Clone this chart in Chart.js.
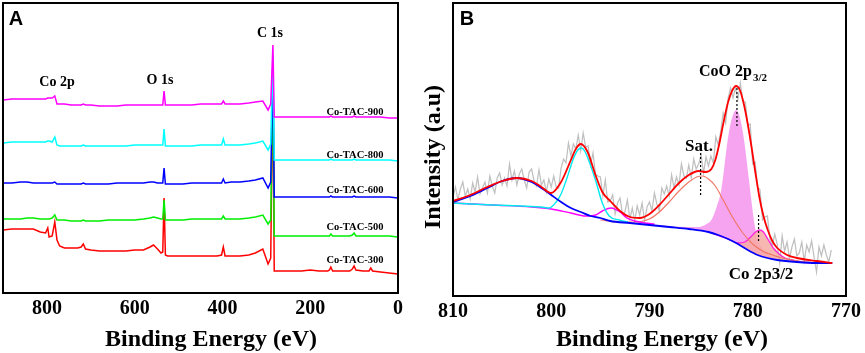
<!DOCTYPE html>
<html>
<head>
<meta charset="utf-8">
<script src="https://cdn.jsdelivr.net/npm/chart.js@4.4.1/dist/chart.umd.min.js"></script>
<style>
  html, body { margin: 0; padding: 0; background: #fff; }
  #wrap { position: relative; width: 865px; height: 353px; overflow: hidden; }
  canvas { position: absolute; top: 0; }
  #survey { left: 0; }
  #co2p { left: 420px; }
</style>
</head>
<body>
<div id="wrap">
  <canvas id="survey" width="430" height="353"></canvas>
  <canvas id="co2p" width="445" height="353"></canvas>
</div>
<script>
// ---- panel A: survey spectra, binding energy (eV) vs stacked intensity (a.u.)
const surveyEnergy = [900, 880, 860, 845, 831, 815, 803, 798, 795, 788, 782, 777, 771, 760, 745, 730, 722, 717, 712, 700,
  680, 660, 640, 620, 600, 580, 565, 557, 548, 540, 536, 533, 530, 525, 510, 490, 470, 450, 430, 412,
  402, 398, 394, 380, 360, 340, 325, 308, 296, 290, 285, 282, 275, 260, 240, 220, 200, 180, 160, 156,
  153, 149, 130, 110, 104, 100, 96, 80, 66, 62, 58, 40, 20, 0];

const tac900 = [193, 194, 194, 194, 194, 194, 194, 195, 195, 195, 197, 189, 189, 189, 188, 188, 188, 189, 188, 188,
  187, 187, 187, 188, 188, 188, 188, 188, 188, 188, 188, 202, 188, 188, 188, 188, 188, 189, 189, 189,
  189, 192, 189, 189, 189, 190, 191, 192, 183, 189, 248, 176, 176, 176, 176, 176, 176, 176, 176, 176,
  177, 176, 176, 176, 176, 177, 176, 176, 176, 176, 176, 176, 175, 175];
const tac800 = [150, 151, 151, 151, 151, 151, 151, 152, 152, 151, 156, 148, 147, 147, 147, 147, 147, 148, 147, 147,
  147, 147, 147, 147, 148, 148, 148, 148, 148, 148, 148, 164, 147, 147, 147, 147, 147, 148, 148, 148,
  148, 154, 148, 148, 148, 149, 150, 152, 143, 149, 238, 133, 133, 133, 133, 133, 133, 133, 133, 133,
  134, 133, 133, 133, 133, 134, 133, 133, 133, 133, 133, 133, 133, 132];
const tac600 = [110, 110, 111, 111, 110, 110, 110, 110, 110, 110, 111, 109, 109, 109, 109, 109, 109, 110, 109, 109,
  109, 109, 110, 110, 110, 110, 111, 111, 110, 110, 110, 125, 109, 109, 109, 109, 110, 110, 110, 110,
  110, 114, 110, 111, 111, 112, 113, 115, 105, 111, 233, 96, 96, 96, 96, 96, 96, 96, 96, 96,
  97, 96, 96, 96, 96, 97, 96, 96, 96, 96, 96, 96, 96, 95];
const tac500 = [74, 74, 74, 75, 75, 74, 74, 74, 74, 75, 78, 73, 73, 73, 72, 72, 72, 73, 72, 72,
  72, 73, 73, 73, 73, 74, 75, 76, 75, 74, 74, 93, 73, 73, 73, 73, 74, 74, 74, 74,
  74, 77, 74, 74, 74, 75, 76, 78, 69, 73, 223, 57, 57, 57, 57, 57, 57, 57, 57, 57,
  59, 57, 57, 57, 58, 60, 57, 57, 57, 57, 57, 57, 57, 56];
const tac300 = [63, 64, 64, 64, 64, 61, 60, 65, 56, 57, 71, 53, 47, 45, 45, 45, 46, 49, 44, 43,
  42, 42, 42, 42, 43, 43, 46, 48, 44, 40, 41, 95, 38, 37, 37, 37, 37, 37, 37, 37,
  38, 46, 37, 37, 37, 38, 40, 44, 29, 35, 218, 22, 22, 22, 22, 22, 23, 22, 22, 23,
  26, 22, 22, 22, 24, 27, 23, 22, 22, 25, 22, 21, 20, 19];

const surveyNames = ["Co-TAC-900", "Co-TAC-800", "Co-TAC-600", "Co-TAC-500", "Co-TAC-300"];
const surveyColors = ["#ff00ff", "#00ffff", "#0000ff", "#00ee00", "#ff0000"];
const surveyTicks = [800, 600, 400, 200, 0];

// ---- panel B: Co 2p region, [binding energy, intensity]
const rawCo2p = [[810, 99], [809.75, 109], [809.5, 96], [809.25, 107], [809, 114], [808.75, 100], [808.5, 107], [808.25, 97],
  [808, 113], [807.75, 104], [807.5, 119], [807.25, 102], [807, 108], [806.75, 114], [806.5, 103], [806.25, 120],
  [806, 110], [805.75, 103], [805.5, 118], [805.25, 123], [805, 111], [804.75, 118], [804.5, 110], [804.25, 132],
  [804, 116], [803.75, 125], [803.5, 111], [803.25, 122], [803, 127], [802.75, 116], [802.5, 108], [802.25, 124],
  [802, 127], [801.75, 115], [801.5, 110], [801.25, 126], [801, 111], [800.75, 116], [800.5, 104], [800.25, 117],
  [800, 109], [799.75, 120], [799.5, 109], [799.25, 108], [799, 128], [798.75, 137], [798.5, 133], [798.25, 153],
  [798, 140], [797.75, 152], [797.5, 147], [797.25, 161], [797, 145], [796.75, 163], [796.5, 149], [796.25, 150],
  [796, 131], [795.75, 143], [795.5, 122], [795.25, 120], [795, 119], [794.75, 100], [794.5, 116], [794.25, 94],
  [794, 95], [793.75, 101], [793.5, 82], [793.25, 93], [793, 98], [792.75, 82], [792.5, 84], [792.25, 96],
  [792, 77], [791.75, 88], [791.5, 75], [791.25, 90], [791, 81], [790.75, 93], [790.5, 75], [790.25, 89],
  [790, 94], [789.75, 85], [789.5, 103], [789.25, 92], [789, 85], [788.75, 108], [788.5, 102], [788.25, 110],
  [788, 100], [787.75, 121], [787.5, 108], [787.25, 119], [787, 111], [786.75, 132], [786.5, 120], [786.25, 118],
  [786, 131], [785.75, 118], [785.5, 137], [785.25, 127], [785, 132], [784.75, 141], [784.5, 123], [784.25, 139],
  [784, 130], [783.75, 140], [783.5, 133], [783.25, 159], [783, 151], [782.75, 165], [782.5, 183], [782.25, 173],
  [782, 198], [781.75, 208], [781.5, 198], [781.25, 208], [781, 197], [780.75, 213], [780.5, 195], [780.25, 194],
  [780, 171], [779.75, 172], [779.5, 132], [779.25, 134], [779, 109], [778.75, 106], [778.5, 76], [778.25, 79],
  [778, 80], [777.75, 57], [777.5, 50], [777.25, 62], [777, 52], [776.75, 33], [776.5, 60], [776.25, 45],
  [776, 54], [775.75, 38], [775.5, 49], [775.25, 57], [775, 40], [774.75, 43], [774.5, 54], [774.25, 35],
  [774, 51], [773.75, 44], [773.5, 55], [773.25, 39], [773, 24], [772.75, 49], [772.5, 40], [772.25, 51],
  [772, 41], [771.75, 34], [771.5, 46]];

const envelopeFit = [[810, 95], [808.5, 100], [806.5, 109], [805, 115], [803.5, 118], [802, 115], [801, 109], [800, 103],
  [799, 114], [798, 136], [797.5, 147], [797, 152], [796.3, 144], [795.5, 121], [794.8, 104], [794, 95], [793, 85],
  [792, 79], [791, 78], [790, 82], [789, 91], [788, 102], [787, 113], [786, 121], [785, 125], [784.3, 124],
  [783.7, 127], [783.3, 136], [782.9, 152], [782.5, 172], [782, 194], [781.6, 205], [781.2, 210], [780.8, 206],
  [780.4, 192], [780, 172], [779.6, 148], [779.2, 122], [778.8, 98], [778.4, 80], [778, 67], [777.5, 55], [777, 48],
  [776, 41], [775, 38], [773, 35], [771.4, 33]];
const peak803Fit = [[810, 94], [808.5, 99], [806.5, 108], [805, 115], [803.5, 118], [802, 114], [801, 108], [800, 101],
  [799, 94], [798, 88], [797, 84], [796, 80], [795, 78], [794, 75], [792, 73], [790, 71], [788, 69], [786, 67],
  [784, 64], [783, 61], [782, 57], [781, 52], [780, 46], [779, 41], [778, 38], [777, 36], [775, 34], [773, 33], [771.4, 33]];
const peak797Fit = [[810, 93], [806, 91], [803, 90], [801, 89], [800.2, 88], [799.5, 94], [799, 102], [798.4, 118],
  [797.8, 136], [797.3, 146], [796.9, 148], [796.6, 145], [796.2, 136], [795.5, 116], [794.8, 93], [794.1, 80],
  [793.1, 76], [792.2, 74]];
const peak794Fit = [[810, 93], [806, 91], [802, 89], [800, 87], [798, 83], [796.5, 80], [795.5, 81], [794.8, 85],
  [793.9, 88], [793, 84], [792.3, 78], [791.5, 75], [790.5, 73], [789.5, 72]];
const satFit = [[795, 76], [793, 74], [791.5, 74], [790, 77], [789, 84], [788, 94], [787, 105], [786, 114], [785.2, 119],
  [784.6, 120], [784, 117], [783.3, 110], [782.5, 96], [781.5, 78], [780.5, 63], [779.5, 52], [778.5, 45], [777.5, 41],
  [776.5, 38], [775.5, 36], [774, 34], [772, 33], [771.4, 33]];
const co2p32Fit = [[784, 64], [782, 57], [781, 53], [780.3, 54], [779.7, 59], [779.2, 64], [778.8, 66], [778.4, 64],
  [777.9, 56], [777.4, 48], [776.8, 42], [776.2, 38], [775.5, 36], [774.5, 34], [773, 33]];
const cooFit = [[790, 72], [788, 70], [786, 69], [785, 69], [784.2, 72], [783.7, 76], [783.2, 88], [782.7, 106],
  [782.4, 128], [782.1, 152], [781.8, 170], [781.5, 181], [781.2, 186], [780.9, 182], [780.5, 164], [780.2, 143],
  [779.9, 118], [779.6, 93], [779.3, 71], [779, 58], [778.6, 49], [778, 42], [777, 37], [776, 35], [775, 34]];
const co2pTicks = [810, 800, 790, 780, 770];

const SERIF = '"Liberation Serif", "Times New Roman", serif';
const SANS = '"Liberation Sans", Arial, sans-serif';

const pts = arr => arr.map(([x, y]) => ({ x, y }));

// frame around plot area + free text and dotted marker lines
const decor = {
  id: "decor",
  afterDraw(chart, args, opts) {
    const { ctx, chartArea: a, scales } = chart;
    ctx.save();
    ctx.strokeStyle = "#000";
    ctx.lineWidth = 2;
    ctx.strokeRect(a.left, a.top, a.right - a.left, a.bottom - a.top);

    ctx.lineWidth = 1.2;
    ctx.setLineDash([2, 2]);
    (opts.marks || []).forEach(([e, v0, v1]) => {
      const x = scales.x.getPixelForValue(e);
      ctx.beginPath();
      ctx.moveTo(x, scales.y.getPixelForValue(v0));
      ctx.lineTo(x, scales.y.getPixelForValue(v1));
      ctx.stroke();
    });
    ctx.setLineDash([]);

    ctx.fillStyle = "#000";
    ctx.textBaseline = "middle";
    (opts.notes || []).forEach(n => {
      ctx.save();
      ctx.font = n.font;
      ctx.translate(n.x, n.y);
      if (n.rot) ctx.rotate(n.rot);
      ctx.textAlign = n.align || "center";
      ctx.fillText(n.text, 0, 0);
      if (n.sub) {
        const w = ctx.measureText(n.text).width;
        ctx.font = n.subFont;
        ctx.textAlign = "left";
        ctx.fillText(n.sub, w + 1, 6);
      }
      ctx.restore();
    });
    ctx.restore();
  }
};

const tickFont = { family: SERIF, size: 20, weight: "bold" };

function xScale(min, max, ticks, height) {
  return {
    type: "linear", min, max, reverse: true,
    grid: { display: false, drawTicks: false },
    border: { display: false },
    afterBuildTicks: s => { s.ticks = ticks.map(v => ({ value: v })); },
    afterFit: s => { s.height = height; },
    ticks: { font: tickFont, color: "#000", padding: 4, maxRotation: 0, autoSkip: false, callback: v => String(v) }
  };
}

// panel A
const surveySeries = [tac900, tac800, tac600, tac500, tac300];
new Chart(document.getElementById("survey"), {
  type: "line",
  data: {
    datasets: surveySeries.map((vals, i) => ({
      label: surveyNames[i],
      data: surveyEnergy.map((e, j) => ({ x: e, y: vals[j] })),
      borderColor: surveyColors[i],
      borderWidth: 1.5,
      pointRadius: 0,
      tension: 0
    }))
  },
  options: {
    responsive: false, animation: false, devicePixelRatio: 1,
    layout: { padding: { left: 3, right: 32, top: 3, bottom: 0 } },
    scales: {
      x: xScale(0, 900, surveyTicks, 60),
      y: { display: false, min: 0, max: 290 }
    },
    plugins: {
      legend: { display: false }, tooltip: { enabled: false },
      decor: {
        notes: [
          { text: "A", x: 16, y: 19, font: `bold 20px ${SANS}` },
          { text: "C 1s", x: 270, y: 33, font: `bold 14px ${SERIF}` },
          { text: "Co 2p", x: 57, y: 82, font: `bold 14px ${SERIF}` },
          { text: "O 1s", x: 160, y: 80, font: `bold 14px ${SERIF}` },
          { text: surveyNames[0], x: 355, y: 112, font: `bold 10.5px ${SERIF}` },
          { text: surveyNames[1], x: 355, y: 155, font: `bold 10.5px ${SERIF}` },
          { text: surveyNames[2], x: 355, y: 190, font: `bold 10.5px ${SERIF}` },
          { text: surveyNames[3], x: 355, y: 227, font: `bold 10.5px ${SERIF}` },
          { text: surveyNames[4], x: 355, y: 260, font: `bold 10.5px ${SERIF}` },
          { text: "Binding Energy (eV)", x: 211, y: 340, font: `bold 24px ${SERIF}` }
        ]
      }
    }
  },
  plugins: [decor]
});

// panel B
const line = (data, color, width, order, extra) => Object.assign({
  data: pts(data), borderColor: color, borderWidth: width, pointRadius: 0,
  cubicInterpolationMode: "monotone", fill: false, order
}, extra || {});

new Chart(document.getElementById("co2p"), {
  type: "line",
  data: {
    datasets: [
      line(envelopeFit, "#ff0000", 1.8, 1),
      line(peak803Fit, "#0000ff", 1.8, 3),
      line(peak797Fit, "#00e8f0", 1.4, 4),
      line(peak794Fit, "#ff00ff", 1.4, 5),
      line(satFit, "#f07868", 1.2, 6),
      line(co2p32Fit, "#ff22dd", 1.3, 7, { fill: { target: 1, above: "rgba(246,172,165,0.85)", below: "rgba(0,0,0,0)" } }),
      line(cooFit, "rgba(0,0,0,0)", 0, 8, { fill: { target: 1, above: "#f6a4f0", below: "rgba(0,0,0,0)" } }),
      line(rawCo2p, "#c0c0c0", 1.25, 9, { cubicInterpolationMode: "default", tension: 0 })
    ]
  },
  options: {
    responsive: false, animation: false, devicePixelRatio: 1,
    layout: { padding: { left: 33, right: 16, top: 3, bottom: 0 } },
    scales: {
      x: xScale(770, 810, co2pTicks, 57),
      y: { display: false, min: 0, max: 293 }
    },
    plugins: {
      legend: { display: false }, tooltip: { enabled: false },
      decor: {
        marks: [[784.8, 143, 100], [781.1, 208, 169], [778.9, 81, 53]],
        notes: [
          { text: "B", x: 47, y: 19, font: `bold 20px ${SANS}` },
          { text: "Sat.", x: 279, y: 147, font: `bold 17px ${SERIF}` },
          { text: "CoO 2p", x: 279, y: 72, align: "left", font: `bold 16px ${SERIF}`, sub: "3/2", subFont: `bold 11px ${SERIF}` },
          { text: "Co 2p3/2", x: 341, y: 275, font: `bold 17px ${SERIF}` },
          { text: "Intensity (a.u)", x: 14, y: 157, rot: -Math.PI / 2, font: `bold 24px ${SERIF}` },
          { text: "Binding Energy (eV)", x: 242, y: 340, font: `bold 24px ${SERIF}` }
        ]
      }
    }
  },
  plugins: [decor]
});
</script>
</body>
</html>
